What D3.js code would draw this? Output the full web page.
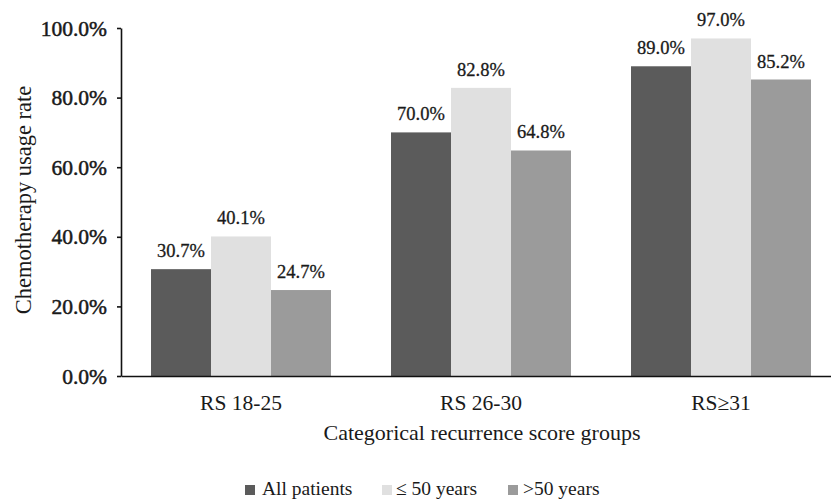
<!DOCTYPE html>
<html><head><meta charset="utf-8">
<script src="https://cdn.jsdelivr.net/npm/d3@7"></script>
<style>body{margin:0;background:#fff}svg{display:block}text{font-family:"Liberation Serif","Times New Roman",serif;fill:#1a1a1a}</style>
</head><body>
<script>
const categories = ["RS 18-25", "RS 26-30", "RS\u226531"];
const seriesNames = ["All patients", "\u2264 50 years", ">50 years"];
const allPatients = [30.7, 70.0, 89.0];
const under50 = [40.1, 82.8, 97.0];
const over50 = [24.7, 64.8, 85.2];
const yTicks = [0, 20, 40, 60, 80, 100];
const colors = ["#5b5b5b", "#e0e0e0", "#9b9b9b"];
const seriesValues = [allPatients, under50, over50];

const W = 831, H = 501;
const svg = d3.select("body").append("svg").attr("width", W).attr("height", H);
const x0 = d3.scaleBand().domain(categories).range([121, 841]).paddingInner(0.25).paddingOuter(0.125);
const x1 = d3.scaleBand().domain(seriesNames).range([0, x0.bandwidth()]);
const y = d3.scaleLinear().domain([0, 100]).range([376, 28]);

const g = svg.append("g");
categories.forEach((c, ci) => {
  seriesNames.forEach((s, si) => {
    const v = seriesValues[si][ci];
    const bx = x0(c) + x1(s);
    g.append("rect").attr("x", bx).attr("y", y(v)).attr("width", x1.bandwidth()).attr("height", y(0) - y(v))
      .attr("fill", colors[si]);
    g.append("text").attr("x", bx + x1.bandwidth() / 2).attr("y", y(v) - 12)
      .attr("text-anchor", "middle").attr("font-size", 18.5)
      .attr("stroke", "#1a1a1a").attr("stroke-width", 0.3).text(v.toFixed(1) + "%");
  });
});

// y axis
const yAxis = d3.axisLeft(y).tickValues(yTicks).tickSize(4).tickSizeOuter(0).tickFormat(d => d.toFixed(1) + "%");
const ya = svg.append("g").attr("transform", "translate(121,0)").call(yAxis);
ya.select(".domain").attr("stroke", "#111").attr("stroke-width", 1.6);
ya.selectAll(".tick line").attr("stroke", "#111").attr("stroke-width", 1.6);
ya.selectAll(".tick text").attr("font-size", 21.5).attr("x", -14).attr("dy", "0.33em")
  .style("font-family", '"Liberation Serif",serif').attr("fill", "#1a1a1a")
  .attr("stroke", "#1a1a1a").attr("stroke-width", 0.5);

// x axis
const xAxis = d3.axisBottom(x0).tickSize(0).tickSizeOuter(0);
const xa = svg.append("g").attr("transform", "translate(0,376)").call(xAxis);
xa.select(".domain").attr("stroke", "#111").attr("stroke-width", 1.6);
xa.selectAll(".tick text").attr("font-size", 21.5).attr("y", 19).attr("dy", "0.71em")
  .style("font-family", '"Liberation Serif",serif').attr("fill", "#222");

svg.append("text").attr("x", 482).attr("y", 440).attr("text-anchor", "middle").attr("font-size", 22)
  .text("Categorical recurrence score groups");
svg.append("text").attr("transform", "translate(31,200) rotate(-90)").attr("text-anchor", "middle").attr("font-size", 22.5)
  .text("Chemotherapy usage rate");

// legend
const legSq = [245, 382, 508];
const legTx = [262, 396, 523];
seriesNames.forEach((s, i) => {
  svg.append("rect").attr("x", legSq[i]).attr("y", 485).attr("width", 10).attr("height", 10).attr("fill", colors[i]);
  svg.append("text").attr("x", legTx[i]).attr("y", 495).attr("font-size", 19.5).text(s);
});
</script>
</body></html>
